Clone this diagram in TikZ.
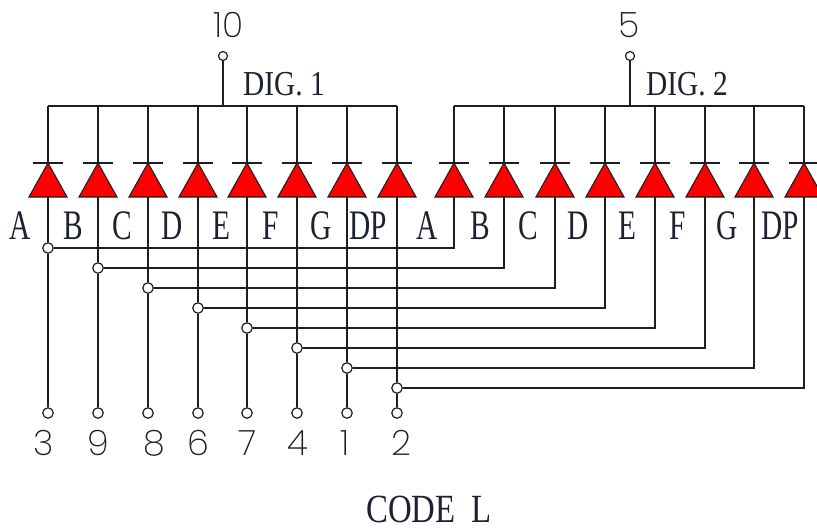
\documentclass[tikz,border=0pt]{standalone}
\usepackage{fontspec}
\newfontfamily\serifnarrow[FakeStretch=0.7]{Liberation Serif}
\newfontfamily\serifdig[FakeStretch=0.84]{Liberation Serif}
\newfontfamily\serifcode[FakeStretch=0.82]{Liberation Serif}
\newfontfamily\thindigits[UprightFont=* ExtraLight]{Poppins}
\definecolor{wirec}{HTML}{1E1E1E}
\definecolor{labelc}{HTML}{1C2230}
\definecolor{ledred}{HTML}{FF0000}
\begin{document}
\begin{tikzpicture}[x=1pt,y=-1pt,
  wire/.style={draw=wirec,line width=1.3pt},
  terminal/.style={circle,draw=wirec,fill=white,line width=1.2pt,minimum size=10.5pt,inner sep=0pt},
  ledtri/.style={fill=ledred,draw=wirec,line width=1.1pt,line join=miter},
  seglabel/.style={inner sep=0pt,text=labelc,font=\serifnarrow\fontsize{42}{42}\selectfont},
  diglabel/.style={inner sep=0pt,text=labelc,font=\serifdig\fontsize{35}{35}\selectfont},
  codelabel/.style={inner sep=0pt,text=labelc,font=\serifcode\fontsize{40}{40}\selectfont},
  pinlabel/.style={inner sep=0pt,text=wirec,font=\thindigits\fontsize{35}{35}\selectfont}]
\useasboundingbox (0,0) rectangle (817,528);
\clip (0,0) rectangle (817,528);
% common anode buses
\coordinate (busL) at (48,106);
\coordinate (busLe) at (397,106);
\coordinate (busR) at (454,106);
\coordinate (busRe) at (804,106);
\coordinate (tapL) at (223,106);
\coordinate (tapR) at (630,106);
\draw[wire] (busL) -- (busLe);
\draw[wire] (busR) -- (busRe);
\node[terminal,minimum size=9pt] (pin10) at (223,56) {};
\node[terminal,minimum size=9pt] (pin5) at (630,56) {};
\draw[wire] (pin10) -- (tapL);
\draw[wire] (pin5) -- (tapR);
% digit 1 LEDs, common wires, junctions and pins
\foreach \n/\x/\y/\lx/\t/\px/\p in {
  1/48/248/20/A/44/3, 2/98/268/73/B/98/9, 3/148/288/122/C/154/8, 4/198/308/172/D/198/6,
  5/247/328/221/E/248/7, 6/297/348/271/F/298/4, 7/347/368/321/G/345/1, 8/397/388/368/DP/401/2}{
  \coordinate (top\n) at (\x,106);
  \coordinate (apex\n) at (\x,163);
  \coordinate (base\n) at (\x,197);
  \draw[wire] (top\n) -- (apex\n);
  \draw[wire] (\x-15,163) -- (\x+15,163);
  \draw[ledtri] (\x,163) -- (\x+19,197) -- (\x-19,197) -- cycle;
  \node[seglabel] (lab\n) at (\lx,226) {\t};
  \node[pinlabel] (num\n) at (\px,443) {\p};
}
% digit 2 LEDs
\foreach \n/\x/\lx/\t in {
  1/454/427/A, 2/504/480/B, 3/555/528/C, 4/605/578/D,
  5/655/627/E, 6/705/678/F, 7/754/727/G, 8/804/780/DP}{
  \coordinate (rtop\n) at (\x,106);
  \coordinate (rbase\n) at (\x,197);
  \draw[wire] (rtop\n) -- (\x,163);
  \draw[wire] (\x-15,163) -- (\x+15,163);
  \draw[ledtri] (\x,163) -- (\x+19,197) -- (\x-19,197) -- cycle;
  \node[seglabel] (rlab\n) at (\lx,226) {\t};
}
% crossing wires to pins
\foreach \n/\x/\y/\rx in {
  1/48/248/454, 2/98/268/504, 3/148/288/555, 4/198/308/605,
  5/247/328/655, 6/297/348/705, 7/347/368/754, 8/397/388/804}{
  \coordinate (rcorner\n) at (\rx,\y);
  \node[terminal] (junc\n) at (\x,\y) {};
  \node[terminal] (pin\n) at (\x,413) {};
  \draw[wire] (base\n) -- (junc\n);
  \draw[wire] (junc\n) -- (pin\n);
  \draw[wire] (junc\n) -- (rcorner\n) -- (rbase\n);
}
\node[pinlabel] (num10) at (229,25) {10};
\node[pinlabel] (num5) at (629,25) {5};
\node[diglabel] (dig1) at (284,84) {DIG. 1};
\node[diglabel] (dig2) at (687,84) {DIG. 2};
\node[codelabel] (code) at (429,509) {CODE\ \ L};
\end{tikzpicture}
\end{document}
